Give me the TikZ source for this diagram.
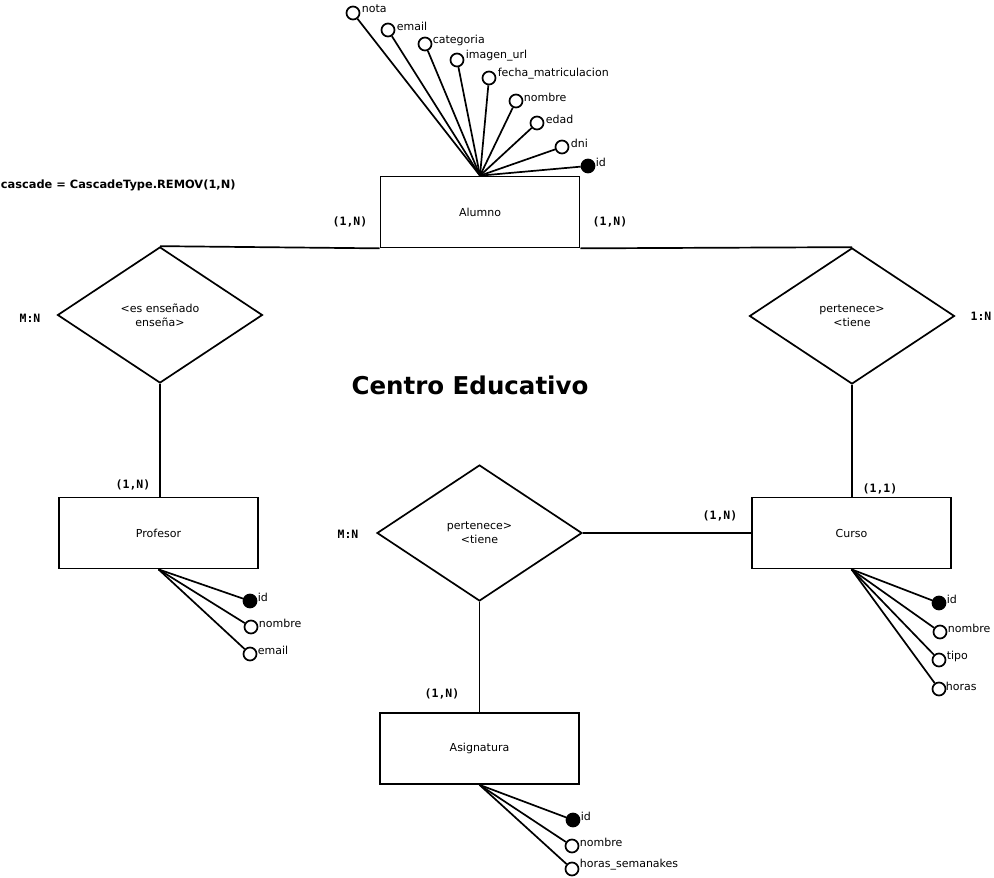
\documentclass[tikz,border=0pt]{standalone}
\usepackage{fontspec}
\setmainfont{DejaVu Sans}
\setmonofont{DejaVu Sans Mono}
\usetikzlibrary{shapes.geometric}
\begin{document}
\begin{tikzpicture}[x=1pt,y=-1pt,line width=1.7pt,
  entity/.style={draw,minimum width=199pt,minimum height=71pt,inner sep=0pt,font=\fontsize{11}{13}\selectfont},
  rel/.style={draw,diamond,minimum width=205pt,minimum height=136pt,inner sep=0pt,align=center,font=\fontsize{11}{14}\selectfont},
  attr/.style={draw,circle,fill=white,minimum size=13pt,inner sep=0pt},
  keyattr/.style={attr,fill=black},
  atext/.style={anchor=west,inner sep=0pt,font=\fontsize{11}{13}\selectfont},
  card/.style={inner sep=0pt,font=\ttfamily\bfseries\fontsize{11.5}{13}\selectfont},
  conn/.style={draw,line width=1.7pt}]
\useasboundingbox (0,0) rectangle (994,878);

% entities
\node[entity] (alumno) at (480,212) {Alumno};
\node[entity] (prof) at (158.5,533) {Profesor};
\node[entity] (curso) at (851.5,533) {Curso};
\node[entity] (asig) at (479.5,748.5) {Asignatura};

% relationships
\node[rel] (rl) at (160,315) {<es enseñado\\enseña>};
\node[rel] (rr) at (852,316) {pertenece>\\<tiene};
\node[rel] (rm) at (479.5,533) {pertenece>\\<tiene};

% connectors
\draw[conn] (rl.north) -- (alumno.south west);
\draw[conn] (alumno.south east) -- (rr.north);
\draw[conn] (rl.south) -- (prof.north -| rl.south);
\draw[conn] (rr.south) -- (curso.north -| rr.south);
\draw[conn] (rm.east) -- (curso.west |- rm.east);
\draw[conn] (rm.south) -- (asig.north -| rm.south);

% Alumno attributes
\node[attr] (a1) at (353,13) {};
\node[attr] (a2) at (388,30) {};
\node[attr] (a3) at (425,44) {};
\node[attr] (a4) at (457,60) {};
\node[attr] (a5) at (489,78) {};
\node[attr] (a6) at (516,101) {};
\node[attr] (a7) at (537,123) {};
\node[attr] (a8) at (562,147) {};
\node[keyattr] (a9) at (588,166) {};
\foreach \n in {a1,a2,a3,a4,a5,a6,a7,a8,a9} \draw[conn] (alumno.north) -- (\n);
\node[atext] at (361,9) {nota};
\node[atext] at (396,26) {email};
\node[atext] at (432,40) {categoria};
\node[atext] at (465,56) {imagen\_url};
\node[atext] at (497,74) {fecha\_matriculacion};
\node[atext] at (523,97) {nombre};
\node[atext] at (545,119) {edad};
\node[atext] at (570,143) {dni};
\node[atext] at (595,162) {id};

% Profesor attributes
\node[keyattr] (p1) at (250,601) {};
\node[attr] (p2) at (251,627) {};
\node[attr] (p3) at (250,654) {};
\foreach \n in {p1,p2,p3} \draw[conn] (prof.south) -- (\n);
\node[atext] at (257,597) {id};
\node[atext] at (258,623) {nombre};
\node[atext] at (257,650) {email};

% Curso attributes
\node[keyattr] (c1) at (939,603) {};
\node[attr] (c2) at (940,632) {};
\node[attr] (c3) at (939,660) {};
\node[attr] (c4) at (939,689) {};
\foreach \n in {c1,c2,c3,c4} \draw[conn] (curso.south) -- (\n);
\node[atext] at (946,599) {id};
\node[atext] at (947,628) {nombre};
\node[atext] at (946,656) {tipo};
\node[atext] at (945,686) {horas};

% Asignatura attributes
\node[keyattr] (s1) at (573,820) {};
\node[attr] (s2) at (572,846) {};
\node[attr] (s3) at (572,869) {};
\foreach \n in {s1,s2,s3} \draw[conn] (asig.south) -- (\n);
\node[atext] at (580,816) {id};
\node[atext] at (579,842) {nombre};
\node[atext] at (579,865) {horas\_semanakes};

% cardinalities
\node[card] at (350,222) {(1,N)};
\node[card] at (610,222) {(1,N)};
\node[card] at (30,318) {M:N};
\node[card] at (981,316) {1:N};
\node[card] at (133,485) {(1,N)};
\node[card] at (880,489) {(1,1)};
\node[card] at (348,534) {M:N};
\node[card] at (720,516) {(1,N)};
\node[card] at (442,694) {(1,N)};

% other texts
\node[anchor=west,inner sep=0pt,font=\bfseries\fontsize{11.4}{13}\selectfont] at (0,185) {cascade = CascadeType.REMOV(1,N)};
\node[inner sep=0pt,font=\bfseries\fontsize{24.5}{28}\selectfont] at (470,385) {Centro Educativo};
\end{tikzpicture}
\end{document}
